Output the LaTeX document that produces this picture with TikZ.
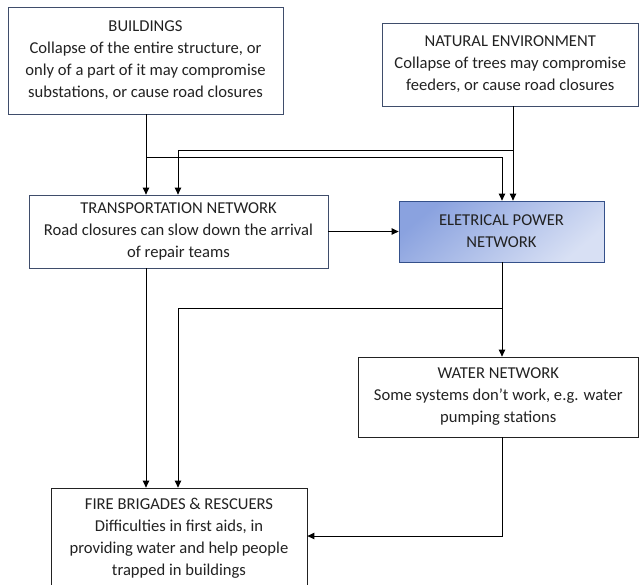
\documentclass[tikz,border=0pt]{standalone}
\usepackage{fontspec}
\setmainfont{Carlito}
\usetikzlibrary{arrows.meta}
\definecolor{bordA}{HTML}{3F4D6B}
\definecolor{bordE}{HTML}{34508A}
\definecolor{bordK}{HTML}{222222}
\definecolor{txt}{HTML}{222222}
\definecolor{elecA}{HTML}{8AA2DF}
\definecolor{elecB}{HTML}{D8E0F4}
\tikzset{
  box/.style={draw=bordA, line width=0.8pt, fill=white, inner sep=0pt, align=center,
    text=txt, font=\fontsize{16.6}{22}\selectfont},
  boxk/.style={box, draw=bordK},
  arr/.style={line width=0.9pt, draw=black, -{Triangle[length=7pt,width=6.5pt]}},
}
\begin{document}
\begin{tikzpicture}[x=1pt,y=-1pt]
\useasboundingbox[fill=white] (0,0) rectangle (639,584);
\node[box, minimum width=275pt, minimum height=107pt] (build) at (145.5,60.5)
  {BUILDINGS\\Collapse of the entire structure, or\\only of a part of it may compromise\\substations, or cause road closures};
\node[box, minimum width=256pt, minimum height=83pt] (nat) at (510.25,64.5)
  {NATURAL ENVIRONMENT\\Collapse of trees may compromise\\feeders, or cause road closures};
\node[box, minimum width=299pt, minimum height=73pt] (trans) at (178.5,231.5)
  {TRANSPORTATION NETWORK\\Road closures can slow down the arrival\\of repair teams};
\node[box, draw=bordE, top color=elecA, bottom color=elecB, shading angle=40,
  minimum width=205pt, minimum height=61pt] (elec) at (501.5,231.5)
  {ELETRICAL POWER\\NETWORK};
\node[boxk, minimum width=280.5pt, minimum height=80pt] (water) at (498.25,397)
  {WATER NETWORK\\Some systems don’t work, e.g. water\\pumping stations};
\node[boxk, minimum width=256pt, minimum height=101pt] (fire) at (179,538.5)
  {FIRE BRIGADES \& RESCUERS\\Difficulties in first aids, in\\providing water and help people\\trapped in buildings};
\coordinate (xb) at (146,0);
\coordinate (xt) at (178,0);
\coordinate (xe) at (502,0);
\coordinate (xn) at (513,0);
\coordinate (yb) at (0,157);
\coordinate (yn) at (0,150);
\coordinate (ye) at (0,308);
\coordinate (yw) at (0,536);
\draw[arr] (xb |- build.south) -- (xb |- trans.north);
\draw[arr] (xb |- yb) -- (xe |- yb) -- (xe |- elec.north);
\draw[arr] (xn |- nat.south) -- (xn |- elec.north);
\draw[arr] (xn |- yn) -- (xt |- yn) -- (xt |- trans.north);
\draw[arr] (trans.east) -- (elec.west);
\draw[arr] (xb |- trans.south) -- (xb |- fire.north);
\draw[arr] (xe |- elec.south) -- (xe |- water.north);
\draw[arr] (xe |- ye) -- (xt |- ye) -- (xt |- fire.north);
\draw[arr] (xe |- water.south) -- (xe |- yw) -- (fire.east |- yw);
\end{tikzpicture}
\end{document}
